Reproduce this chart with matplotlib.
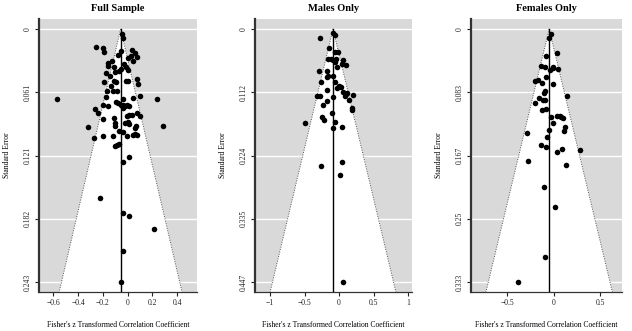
import numpy as np
import matplotlib
matplotlib.use("Agg")
from matplotlib import pyplot as plt

# Fisher's z (x) and standard error (y)
full_z = [-0.048, -0.040, -0.255, -0.202, -0.191, -0.056, -0.075, 0.032, 0.056, 0.073,
          0.024, 0.000, 0.046, -0.129, -0.161, -0.156, -0.108, -0.030, -0.013, 0.005,
          -0.067, -0.056, -0.175, -0.142, -0.102, -0.108, -0.094, -0.191, -0.134, -0.164,
          -0.116, -0.089, -0.013, 0.005, 0.073, 0.081, 0.102, 0.046, -0.177, -0.202,
          -0.156, -0.094, -0.075, -0.035, -0.056, -0.035, -0.022, -0.008, 0.013, -0.040,
          -0.573, 0.239, -0.263, -0.239, -0.196, -0.110, -0.102, -0.116, -0.102, -0.008,
          0.013, 0.032, 0.078, 0.099, -0.019, 0.005, 0.008, 0.059, 0.067, -0.323,
          0.288, -0.269, -0.196, -0.067, -0.035, 0.046, 0.059, 0.078, -0.099, -0.083,
          -0.067, -0.008, 0.011, -0.035, -0.223, -0.040, 0.011, 0.215, -0.040, -0.051]
full_se = [0.0048, 0.0087, 0.0170, 0.0183, 0.0224, 0.0208, 0.0247, 0.0199, 0.0231, 0.0266,
           0.0256, 0.0273, 0.0311, 0.0311, 0.0327, 0.0353, 0.0362, 0.0337, 0.0369, 0.0391,
           0.0401, 0.0385, 0.0423, 0.0449, 0.0410, 0.0497, 0.0507, 0.0513, 0.0551, 0.0593,
           0.0593, 0.0596, 0.0497, 0.0503, 0.0481, 0.0529, 0.0641, 0.0667, 0.0651, 0.0725,
           0.0737, 0.0699, 0.0712, 0.0673, 0.0731, 0.0731, 0.0737, 0.0731, 0.0737, 0.0763,
           0.0673, 0.0676, 0.0769, 0.0808, 0.0866, 0.0850, 0.0936, 0.1026, 0.0904, 0.0834,
           0.0827, 0.0827, 0.0808, 0.0834, 0.0898, 0.0891, 0.0914, 0.0955, 0.0936, 0.0939,
           0.0930, 0.1042, 0.1026, 0.0975, 0.0987, 0.1019, 0.1010, 0.1019, 0.1122, 0.1112,
           0.1100, 0.1026, 0.1225, 0.1273, 0.1619, 0.1767, 0.1795, 0.1924, 0.2132, 0.2430]

males_z = [-0.094, -0.060, -0.277, -0.142, -0.060, -0.012, -0.157, -0.123, -0.094, -0.046,
           -0.060, 0.051, 0.036, 0.099, -0.036, -0.292, -0.171, -0.094, -0.181, -0.157,
           -0.263, -0.060, 0.002, 0.022, -0.027, 0.051, 0.099, 0.084, 0.118, 0.205,
           -0.171, -0.325, -0.272, -0.094, -0.181, -0.229, 0.147, 0.181, 0.190, -0.099,
           -0.253, -0.219, -0.494, -0.060, 0.036, -0.084, 0.036, -0.267, 0.012, 0.051]
males_se = [0.0077, 0.0106, 0.0165, 0.0336, 0.0413, 0.0413, 0.0531, 0.0531, 0.0543, 0.0531,
            0.0590, 0.0543, 0.0625, 0.0637, 0.0678, 0.0743, 0.0737, 0.0826, 0.0843, 0.0826,
            0.0932, 0.0932, 0.1014, 0.1032, 0.1050, 0.1109, 0.1150, 0.1191, 0.1132, 0.1168,
            0.1073, 0.1179, 0.1191, 0.1209, 0.1280, 0.1345, 0.1250, 0.1403, 0.1427, 0.1486,
            0.1563, 0.1610, 0.1663, 0.1639, 0.1728, 0.1757, 0.2347, 0.2418, 0.2571, 0.4470]

females_z = [-0.032, -0.054, 0.029, -0.089, -0.139, -0.096, -0.007, -0.014, -0.036, 0.050,
             -0.079, -0.204, -0.168, -0.132, -0.014, -0.096, -0.107, 0.146, -0.164, -0.096,
             -0.114, -0.204, -0.125, -0.079, -0.025, 0.036, 0.064, 0.082, 0.100, -0.007,
             0.125, 0.107, -0.286, -0.057, -0.071, -0.139, -0.089, 0.093, 0.286, 0.029,
             -0.282, 0.129, -0.104, 0.014, -0.096, -0.389]
females_se = [0.0066, 0.0119, 0.0321, 0.0360, 0.0483, 0.0496, 0.0496, 0.0514, 0.0536, 0.0532,
              0.0628, 0.0681, 0.0672, 0.0712, 0.0725, 0.0813, 0.0848, 0.0887, 0.0909, 0.0931,
              0.0931, 0.0975, 0.1063, 0.1054, 0.1164, 0.1151, 0.1151, 0.1164, 0.1169, 0.1239,
              0.1283, 0.1344, 0.1371, 0.1331, 0.1419, 0.1529, 0.1551, 0.1573, 0.1590, 0.1617,
              0.1735, 0.1788, 0.2078, 0.2350, 0.3000, 0.3330]

titles = ["Full Sample", "Males Only", "Females Only"]
estimates = [-0.057, -0.087, -0.050]
se_max = [0.243, 0.447, 0.333]
se_tick_labels = [["0", "0.061", "0.121", "0.182", "0.243"],
                  ["0", "0.112", "0.224", "0.335", "0.447"],
                  ["0", "0.083", "0.167", "0.25", "0.333"]]
z_ticks = [[-0.6, -0.4, -0.2, 0, 0.2, 0.4], [-1, -0.5, 0, 0.5, 1], [-0.5, 0, 0.5]]
z_tick_labels = [["\u22120.6", "\u22120.4", "\u22120.2", "0", "0.2", "0.4"],
                 ["\u22121", "\u22120.5", "0", "0.5", "1"],
                 ["\u22120.5", "0", "0.5"]]

plt.rcParams['font.family'] = ['Liberation Serif', 'DejaVu Serif']

W, H = 632, 331
fig = plt.figure(figsize=(W / 100, H / 100), dpi=100)

# axes boxes in pixels: left, right
boxes = [(39, 197), (255, 412), (471, 622)]
xlims = [(-0.715, 0.559), (-1.217, 1.057), (-0.889, 0.732)]
top_px, bot_px = 19, 292

data = [(full_z, full_se), (males_z, males_se), (females_z, females_se)]

for i in range(3):
    l, r = boxes[i]
    ax = fig.add_axes([l / W, (H - bot_px) / H, (r - l) / W, (bot_px - top_px) / H])
    ax.set_facecolor('#d9d9d9')
    smax = se_max[i]
    ylo = smax * 1.04
    ax.set_ylim(ylo, -0.04 * smax)
    ax.set_xlim(*xlims[i])

    yt = np.linspace(0, smax, 5)
    for y in yt:
        ax.axhline(y, color='white', lw=1.0, zorder=1)

    est = estimates[i]
    half = 1.96 * ylo
    ax.fill([est, est - half, est + half], [0, ylo, ylo], color='white', zorder=2, lw=0)
    ax.plot([est, est - half], [0, ylo], ls=(0, (1, 1.5)), color='#555555', lw=0.7, zorder=3)
    ax.plot([est, est + half], [0, ylo], ls=(0, (1, 1.5)), color='#555555', lw=0.7, zorder=3)
    ax.plot([est, est], [0, ylo], color='black', lw=1.0, zorder=3)

    z, se = data[i]
    ax.scatter(z, se, s=16, color='black', zorder=4, linewidths=0)

    ax.set_yticks(yt)
    ax.set_yticklabels(se_tick_labels[i], rotation=90, va='center', fontsize=5.5)
    ax.set_xticks(z_ticks[i])
    ax.set_xticklabels(z_tick_labels[i], fontsize=5.5)
    ax.tick_params(axis='y', length=3.2, width=0.8, pad=2, colors='#222222')
    ax.tick_params(axis='x', length=2.8, width=0.8, pad=2.5, colors='#222222')

    for s in ['top', 'right']:
        ax.spines[s].set_visible(False)
    ax.spines['left'].set_linewidth(1.6)
    ax.spines['left'].set_color('#333333')
    ax.spines['bottom'].set_linewidth(0.9)
    ax.spines['bottom'].set_color('#333333')

    ax.set_title(titles[i], fontsize=7.5, fontweight='bold', pad=6)
    ax.set_ylabel("Standard Error", fontsize=5.5)
    ax.yaxis.set_label_coords(-28 / (r - l), 0.5)
    ax.set_xlabel("Fisher's z Transformed Correlation Coefficient", fontsize=5.5)
    ax.xaxis.set_label_coords(0.5, -(321 - bot_px) / (bot_px - top_px))

fig.savefig("out.png", dpi=100)
